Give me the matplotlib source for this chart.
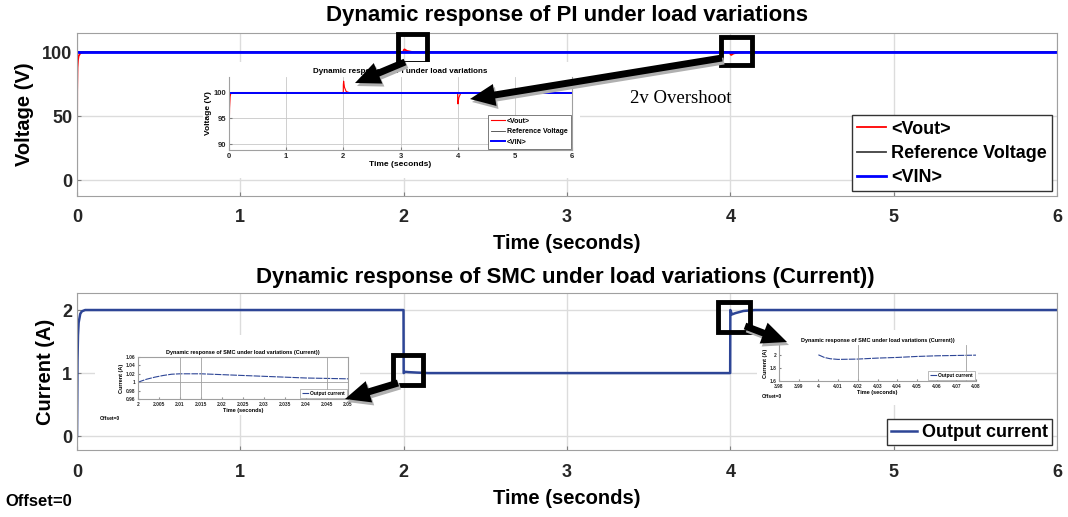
import matplotlib
matplotlib.use('Agg')
import matplotlib.pyplot as plt
from matplotlib.patches import Rectangle, FancyArrowPatch

plt.rcParams['font.family'] = ['Liberation Sans', 'DejaVu Sans']
plt.rcParams['font.weight'] = 'bold'
plt.rcParams['axes.labelweight'] = 'bold'
plt.rcParams['axes.titleweight'] = 'bold'

# ---- data ----
# top panel: PI controller, voltage
vout_t = [0, 0.001, 0.003, 0.006, 0.01, 0.02, 0.03, 0.05, 1.999, 2.0, 2.005, 2.02, 2.05, 2.1,
          3.999, 4.0, 4.005, 4.02, 4.05, 4.1, 6]
vout_v = [0, 70, 88, 94, 97, 99.2, 99.8, 100, 100, 101.5, 102.2, 101.0, 100.2, 100,
          100, 98.6, 97.8, 99.0, 99.8, 100, 100]
vref_t = [0, 6]
vref_v = [100, 100]
vin_t = [0, 6]
vin_v = [100, 100]

# bottom panel: SMC controller, current
cur_t = [0, 0.003, 0.006, 0.01, 0.02, 0.03, 0.05, 1.999, 2.0, 2.01, 2.03, 2.08, 2.15,
         3.999, 4.0, 4.01, 4.03, 4.08, 4.15, 6]
cur_v = [0, 1.2, 1.6, 1.8, 1.94, 1.98, 2.0, 2.0, 1.0, 1.02, 1.015, 1.008, 1.0,
         1.0, 2.0, 1.93, 1.95, 1.985, 2.0, 2.0]

# zoomed views pasted in the bottom panel
zoom1_t = [2.0, 2.002, 2.004, 2.006, 2.008, 2.01, 2.015, 2.02, 2.025, 2.03, 2.035, 2.04, 2.045, 2.05]
zoom1_v = [1.0, 1.007, 1.012, 1.016, 1.019, 1.02, 1.02, 1.018, 1.016, 1.014, 1.012, 1.01, 1.009, 1.008]
zoom2_t = [4.0, 4.003, 4.006, 4.01, 4.02, 4.03, 4.04, 4.05, 4.06, 4.07, 4.08]
zoom2_v = [2.0, 1.96, 1.94, 1.93, 1.935, 1.95, 1.96, 1.975, 1.985, 1.99, 1.995]

W, H = 1068, 517
fig = plt.figure(figsize=(W / 100, H / 100), dpi=100)


def px(l, t, r, b):
    # pixel box (left, top, right, bottom) -> figure fraction rect
    return [l / W, 1 - b / H, (r - l) / W, (b - t) / H]


def style_axes(ax, size, gridc='#dcdcdc'):
    for s in ax.spines.values():
        s.set_color('#a0a0a0')
    ax.tick_params(direction='in', colors='#808080', labelcolor='#262626',
                   labelsize=size, length=3)
    ax.grid(True, color=gridc, lw=1)
    ax.set_axisbelow(True)


def bold(size):
    return {'weight': 'bold', 'size': size}


lblue = '#2d4596'

# ---------------- top panel ----------------
ax1 = fig.add_axes(px(77, 33, 1057, 196))
ax1.plot(vout_t, vout_v, color='red', lw=1.3, label='<Vout>')
ax1.plot(vref_t, vref_v, color='#404040', lw=1.3, label='Reference Voltage')
ax1.plot(vin_t, vin_v, color='blue', lw=2.0, label='<VIN>')
ax1.set_xlim(0, 6)
ax1.set_ylim(-12.5, 115)
ax1.set_yticks([0, 50, 100])
style_axes(ax1, 13)
ax1.tick_params(axis='x', pad=9)
ax1.set_xlabel('Time (seconds)', fontsize=14.5, labelpad=6)
ax1.set_ylabel('Voltage (V)', fontsize=14.5, labelpad=6)
fig.text(567 / W, 1 - 15 / H, 'Dynamic response of PI under load variations',
         ha='center', va='center', fontsize=16)
leg = ax1.legend(loc='lower right', prop=bold(13), fancybox=False, framealpha=1,
                 edgecolor='#333333', borderaxespad=0.25, handlelength=1.6,
                 handletextpad=0.3, labelspacing=0.4, borderpad=0.3)
leg.get_frame().set_linewidth(1)

# boxes around the load steps
ax1.add_patch(Rectangle((1.965, 91.5), 0.18, 23, fill=False, lw=3.5, ec='black',
                        clip_on=False, zorder=5))
ax1.add_patch(Rectangle((3.945, 90), 0.19, 21.5, fill=False, lw=3.5, ec='black',
                        clip_on=False, zorder=5))

# pasted screenshot of the same plot
fig.add_artist(Rectangle((203 / W, 1 - 178 / H), 377 / W, 116 / H, transform=fig.transFigure,
                         fc='white', ec='none', zorder=1))
ins1 = fig.add_axes(px(229, 77, 572, 150), zorder=2)
ins1.plot(vout_t, vout_v, color='red', lw=0.8, label='<Vout>')
ins1.plot(vref_t, vref_v, color='#404040', lw=0.6, label='Reference Voltage')
ins1.plot(vin_t, vin_v, color='blue', lw=1.4, label='<VIN>')
ins1.set_xlim(0, 6)
ins1.set_ylim(88.9, 103)
ins1.set_yticks([90, 95, 100])
style_axes(ins1, 5.5, gridc='#c8c8c8')
ins1.tick_params(length=2, pad=2)
ins1.spines['top'].set_visible(False)
for g in ins1.get_xgridlines() + ins1.get_ygridlines():
    g.set_linewidth(0.6)
ins1.set_title('Dynamic response of PI under load variations', fontsize=5.8, pad=3)
ins1.set_xlabel('Time (seconds)', fontsize=6, labelpad=1)
ins1.set_ylabel('Voltage (V)', fontsize=6, labelpad=1)
leg1 = ins1.legend(loc='lower right', prop=bold(5), fancybox=False, framealpha=1,
                   edgecolor='#666666', borderaxespad=0.2, handlelength=2,
                   handletextpad=0.3, labelspacing=0.5)
leg1.get_frame().set_linewidth(0.6)

fig.text(630 / W, 1 - 99 / H, '2v Overshoot', family='Liberation Serif',
         fontweight='normal', fontsize=13.5, va='center', ha='left', zorder=6)

# ---------------- bottom panel ----------------
ax2 = fig.add_axes(px(77, 293, 1057, 450))
ax2.plot(cur_t, cur_v, color=lblue, lw=1.8, label='Output current')
ax2.set_xlim(0, 6)
ax2.set_ylim(-0.22, 2.27)
ax2.set_yticks([0, 1, 2])
style_axes(ax2, 13)
ax2.tick_params(axis='x', pad=10)
ax2.set_xlabel('Time (seconds)', fontsize=14.5, labelpad=6)
ax2.set_ylabel('Current (A)', fontsize=14.5, labelpad=5)
fig.text(565 / W, 1 - 278 / H,
         'Dynamic response of SMC under load variations (Current))',
         ha='center', va='center', fontsize=16)
fig.text(5 / W, 1 - 502 / H, 'Offset=0', ha='left', va='center', fontsize=12)
leg2 = ax2.legend(loc='lower right', prop=bold(13), fancybox=False, framealpha=1,
                  edgecolor='#333333', borderaxespad=0.25, handlelength=1.4,
                  handletextpad=0.3, borderpad=0.25)
leg2.get_frame().set_linewidth(1)

ax2.add_patch(Rectangle((1.935, 0.81), 0.185, 0.475, fill=False, lw=3.5, ec='black',
                        clip_on=False, zorder=5))
ax2.add_patch(Rectangle((3.925, 1.65), 0.195, 0.475, fill=False, lw=3.5, ec='black',
                        clip_on=False, zorder=5))

# zoom at t=2
fig.add_artist(Rectangle((95 / W, 1 - 415 / H), 265 / W, 80 / H, transform=fig.transFigure,
                         fc='white', ec='none', zorder=1))
ins2 = fig.add_axes(px(138, 357, 348, 399), zorder=2)
ins2.plot(zoom1_t, zoom1_v, color=lblue, lw=0.8, ls=(0, (6, 1)), label='Output current')
ins2.set_xlim(2, 2.05)
ins2.set_ylim(0.96, 1.06)
ins2.set_yticks([0.96, 0.98, 1, 1.02, 1.04, 1.06])
ins2.set_yticklabels(['0.96', '0.98', '1', '1.02', '1.04', '1.06'])
ins2.set_xticks([2, 2.005, 2.01, 2.015, 2.02, 2.025, 2.03, 2.035, 2.04, 2.045, 2.05])
ins2.set_xticklabels(['2', '2.005', '2.01', '2.015', '2.02', '2.025', '2.03', '2.035',
                      '2.04', '2.045', '2.05'])
style_axes(ins2, 3.5, gridc='white')
ins2.tick_params(length=1.5, pad=2)
for xv in [2.01, 2.015, 2.045]:
    ins2.axvline(xv, color='#a0a0a0', lw=0.6)
ins2.axhline(1, color='#a0a0a0', lw=0.6)
ins2.set_title('Dynamic response of SMC under load variations (Current))', fontsize=4, pad=2)
ins2.set_xlabel('Time (seconds)', fontsize=4, labelpad=1)
ins2.set_ylabel('Current (A)', fontsize=4, labelpad=1)
ins2.legend(loc='lower right', prop=bold(3.5), fancybox=False, framealpha=1,
            edgecolor='#888888', borderaxespad=0.2, handlelength=1.5,
            handletextpad=0.3).get_frame().set_linewidth(0.4)
fig.text(100 / W, 1 - 418 / H, 'Offset=0', fontsize=3.5, va='center', zorder=3)

# zoom at t=4
fig.add_artist(Rectangle((757 / W, 1 - 405 / H), 221 / W, 75 / H, transform=fig.transFigure,
                         fc='white', ec='none', zorder=1))
ins3 = fig.add_axes(px(779, 345, 976, 381), zorder=2)
ins3.plot(zoom2_t, zoom2_v, color=lblue, lw=0.8, ls=(0, (6, 1)), label='Output current')
ins3.set_xlim(3.98, 4.08)
ins3.set_ylim(1.6, 2.15)
ins3.set_yticks([1.6, 1.8, 2])
ins3.set_yticklabels(['1.6', '1.8', '2'])
ins3.set_xticks([3.98, 3.99, 4, 4.01, 4.02, 4.03, 4.04, 4.05, 4.06, 4.07, 4.08])
ins3.set_xticklabels(['3.98', '3.99', '4', '4.01', '4.02', '4.03', '4.04', '4.05',
                      '4.06', '4.07', '4.08'])
style_axes(ins3, 3.5, gridc='white')
ins3.tick_params(length=1.5, pad=2)
for s in ['top', 'right']:
    ins3.spines[s].set_visible(False)
for xv in [4.02, 4.075]:
    ins3.axvline(xv, color='#a0a0a0', lw=0.6)
ins3.set_title('Dynamic response of SMC under load variations (Current))', fontsize=4, pad=2)
ins3.set_xlabel('Time (seconds)', fontsize=4, labelpad=1)
ins3.set_ylabel('Current (A)', fontsize=4, labelpad=1)
ins3.legend(loc='lower right', prop=bold(3.5), fancybox=False, framealpha=1,
            edgecolor='#888888', borderaxespad=0.2, handlelength=1.5,
            handletextpad=0.3).get_frame().set_linewidth(0.4)
fig.text(762 / W, 1 - 397 / H, 'Offset=0', fontsize=3.5, va='center', zorder=3)

# ---- callout arrows (pixel positions of the pasted arrows), with a soft shadow ----
arrows = [((405, 62), (355, 83)),
          ((722, 58), (470, 99)),
          ((398, 383), (345, 399)),
          ((745, 326), (787, 342))]
for (x0, y0), (x1, y1) in arrows:
    for dx, dy, c, z in [(2, 3, '#b0b0b0', 5.5), (0, 0, 'black', 6)]:
        a = FancyArrowPatch(((x0 + dx) / W, 1 - (y0 + dy) / H),
                            ((x1 + dx) / W, 1 - (y1 + dy) / H), transform=fig.transFigure,
                            arrowstyle='simple,head_width=1.6,head_length=1.8,tail_width=0.5',
                            mutation_scale=10, color=c, lw=0, zorder=z,
                            shrinkA=0, shrinkB=0)
        fig.add_artist(a)

fig.savefig('out.png', dpi=100)
